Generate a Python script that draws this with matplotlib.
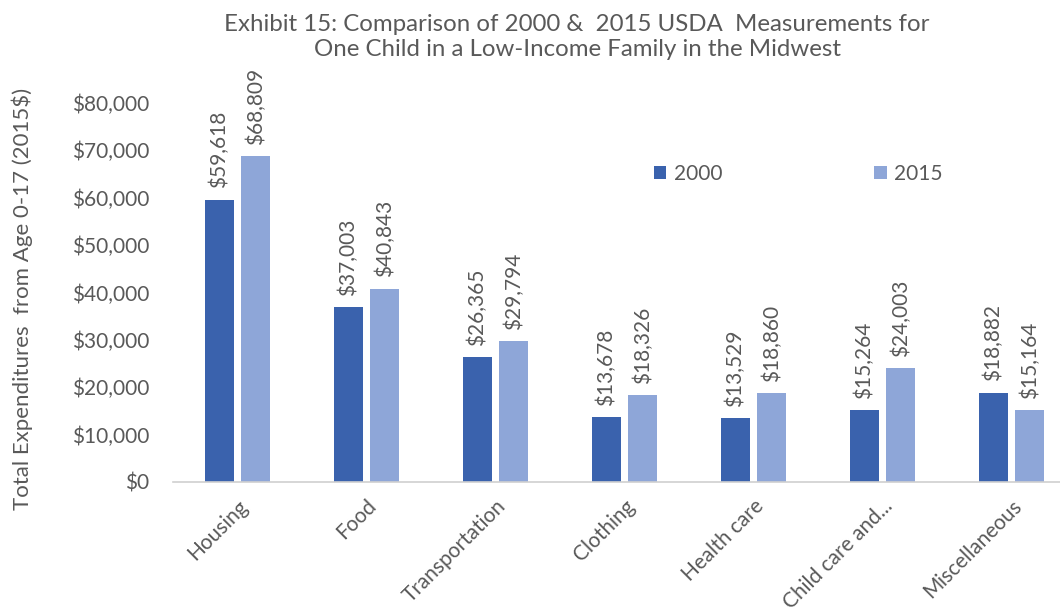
import numpy as np
import matplotlib.pyplot as plt

plt.rcParams['font.family'] = ['Lato', 'DejaVu Sans']

categories = ['Housing', 'Food', 'Transportation', 'Clothing', 'Health care',
              'Child care and...', 'Miscellaneous']
values_2000 = [59618, 37003, 26365, 13678, 13529, 15264, 18882]
values_2015 = [68809, 40843, 29794, 18326, 18860, 24003, 15164]
years = ['2000', '2015']

dark = '#3a62ad'
light = '#8ea6d8'
grey = '#595959'

fig = plt.figure(figsize=(10.6, 6.16), dpi=100)
# axes extend a little past the right edge of the figure
ax = fig.add_axes([173 / 1060, 1 - 482 / 616, 903 / 1060, (482 - 103) / 616])

x = np.arange(len(categories))
w = 0.225
off = 0.143
b1 = ax.bar(x - off, values_2000, w, color=dark, label=years[0])
b2 = ax.bar(x + off, values_2015, w, color=light, label=years[1])

for bars, vals in ((b1, values_2000), (b2, values_2015)):
    for rect, v in zip(bars, vals):
        ax.annotate(f'${v:,}', (rect.get_x() + rect.get_width() / 2, v),
                    xytext=(0, 8), textcoords='offset points',
                    rotation=90, ha='center', va='bottom',
                    fontsize=15, color=grey)

ax.set_xlim(-0.5, len(categories) - 0.5)
ax.set_ylim(0, 80000)
ax.set_yticks(np.arange(0, 80001, 10000))
ax.set_yticklabels([f'${v:,}' for v in range(0, 80001, 10000)])
ax.set_xticks(x)
ax.set_xticklabels(categories, rotation=45, ha='right', rotation_mode='anchor')

for s in ['top', 'right', 'left']:
    ax.spines[s].set_visible(False)
ax.spines['bottom'].set_color('#d0d0d0')
ax.spines['bottom'].set_linewidth(1.2)
ax.tick_params(axis='both', length=0, labelsize=15, colors=grey)
ax.tick_params(axis='y', pad=17)
ax.tick_params(axis='x', pad=10)

ax.set_ylabel('Total Expenditures  from Age 0-17 (2015$)', fontsize=16,
              color=grey)
ax.yaxis.set_label_coords(-140 / 903, (482 - 299) / 379)

fig.text(577 / 1060, 1 - 37 / 616,
         'Exhibit 15: Comparison of 2000 &  2015 USDA  Measurements for\n'
         'One Child in a Low-Income Family in the Midwest',
         ha='center', va='center', fontsize=17.3, color=grey, linespacing=1.25)

ax.legend(loc='upper left', bbox_to_anchor=(462 / 903, 1 - 42 / 379), ncol=2,
          frameon=False, fontsize=15, labelcolor=grey, columnspacing=7.3,
          handlelength=0.6, handleheight=0.6, handletextpad=0.35)

fig.savefig('out.png', dpi=100)
